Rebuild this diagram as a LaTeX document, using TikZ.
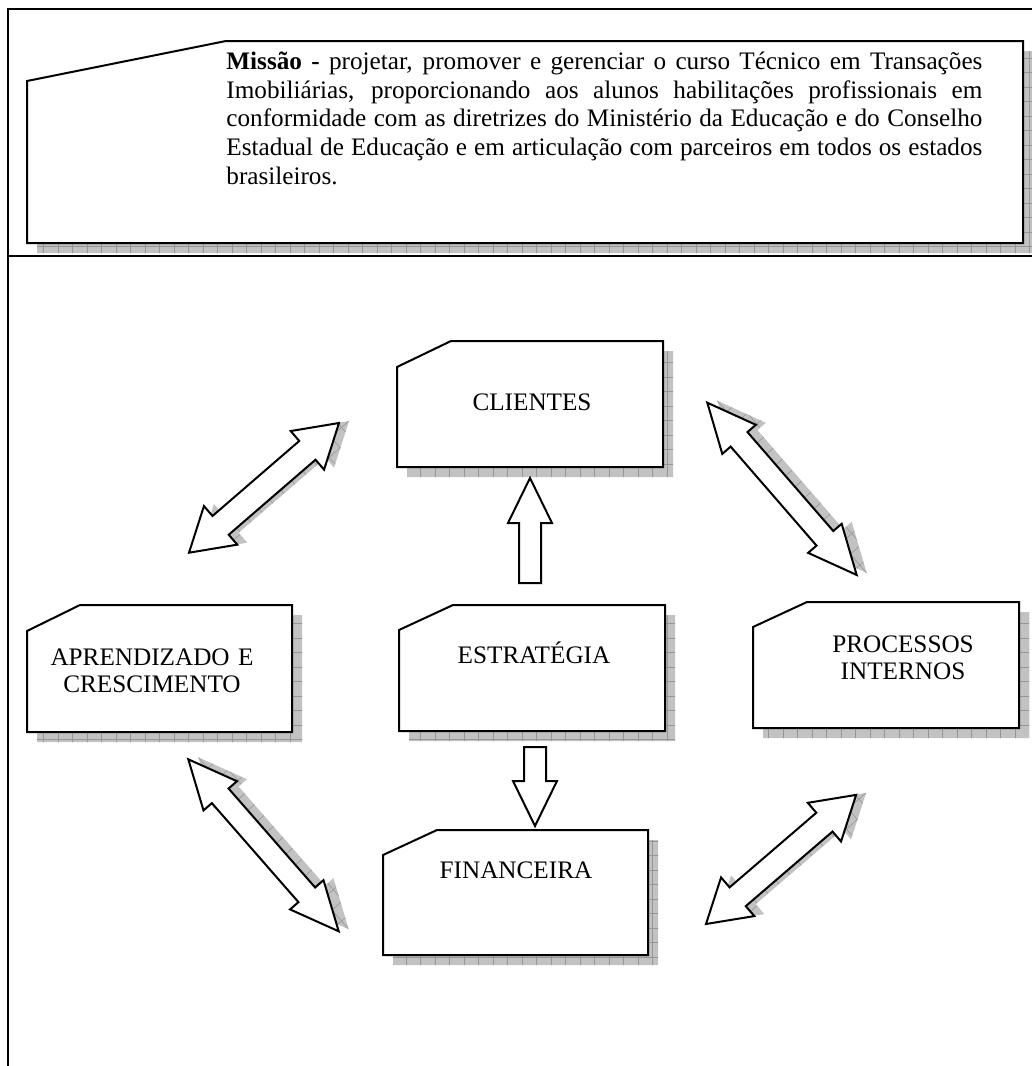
\documentclass[tikz,border=0pt]{standalone}
\usepackage{fontspec}
\setmainfont{Liberation Serif}
\usetikzlibrary{calc}

\definecolor{shadowfill}{RGB}{194,194,194}
\definecolor{shadowgrid}{RGB}{150,150,150}

\tikzset{
  outline/.style={draw=black, line width=1pt, line join=miter, fill=white},
  shade/.style={fill=shadowfill},
  gridline/.style={draw=shadowgrid, line width=0.3pt},
  rule/.style={draw=black, line width=1pt},
  boxlabel/.style={inner sep=0pt, anchor=base, align=center,
    font=\fontsize{12.6pt}{13.5pt}\selectfont},
}

% Panel with a cut upper-left corner: left, top, right, bottom, cut dx, cut dy
\newcommand\panelpath[6]{(#1,{#2+#6}) -- ({#1+#5},#2) -- (#3,#2) -- (#3,#4) -- (#1,#4) -- cycle}
\newcommand\panel[6]{%
  \begin{scope}
    \clip[shift={(10,10)}] \panelpath{#1}{#2}{#3}{#4}{#5}{#6};
    \fill[shade] (#1,#2) rectangle ({#3+12},{#4+12});
    \foreach \g in {0,14.5,...,1040} \draw[gridline] (\g,#2) -- (\g,{#4+12});
    \foreach \g in {0,14.5,...,1000} \draw[gridline] (#1,\g) -- ({#3+12},\g);
  \end{scope}
  \draw[outline] \panelpath{#1}{#2}{#3}{#4}{#5}{#6};}

% Double-headed block arrow along the local x axis: length, head length, head half width, shaft half width
\newcommand\dblarrowpath[4]{(0,0) -- (#2,#3) -- (#2,#4) -- ({#1-#2},#4) -- ({#1-#2},#3) -- (#1,0)
  -- ({#1-#2},{-#3}) -- ({#1-#2},{-#4}) -- (#2,{-#4}) -- (#2,{-#3}) -- cycle}
% start coordinate, angle, length, head length, head half width, shaft half width
\newcommand\blockarrow[6]{%
  \begin{scope}[shift={($(#1)+(10,-2)$)}, rotate=#2]
    \clip \dblarrowpath{#3}{#4}{#5}{#6};
    \fill[shade] (-5,-40) rectangle ({#3+5},40);
    \foreach \g in {0,14.5,...,240} \draw[gridline] (\g,-40) -- (\g,40);
    \foreach \g in {-43.5,-29,...,43.5} \draw[gridline] (-5,\g) -- ({#3+5},\g);
  \end{scope}
  \begin{scope}[shift={(#1)}, rotate=#2]
    \draw[outline] \dblarrowpath{#3}{#4}{#5}{#6};
  \end{scope}}

\begin{document}
\begin{tikzpicture}[x=0.5pt, y=-0.5pt]
  \useasboundingbox (0,0) rectangle (1032,1066);

  % table frame
  \coordinate (frameTL) at (8,9);
  \coordinate (frameTR) at (1032,9);
  \coordinate (frameBL) at (8,1066);
  \coordinate (sepL) at (8,256);
  \coordinate (sepR) at (1032,256);
  \draw[rule, line cap=rect] (frameTR) -- (frameTL) -- (frameBL);
  \draw[rule] (sepL) -- (sepR);

  % mission statement
  \panel{27}{41}{1023}{243}{199}{40}
  \node[anchor=north west, inner sep=0pt, text width=378pt, align=justify,
        font=\fontsize{12.6pt}{14.35pt}\selectfont] (missao) at (226,49)
    {\strut\tolerance=9999\hyphenpenalty=10000
     \textbf{Missão -} projetar, promover e gerenciar o curso Técnico em Transações\linebreak
     Imobiliárias, proporcionando aos alunos habilitações profissionais em\linebreak
     conformidade com as diretrizes do Ministério da Educação e do Conselho\linebreak
     Estadual de Educação e em articulação com parceiros em todos os estados\linebreak
     brasileiros.};

  % perspective panels
  \panel{397}{341}{663}{467}{54}{26}
  \node[boxlabel] (clientes) at (532,410) {CLIENTES};

  \panel{27}{605}{292}{732}{53}{26}
  \node[boxlabel, text width=140pt] (aprendizado) at (152,665) {APRENDIZADO E\\CRESCIMENTO};

  \panel{399}{605}{665}{731}{54}{25}
  \node[boxlabel] (estrategia) at (534,663) {ESTRATÉGIA};

  \panel{753}{602}{1019}{728}{54}{25}
  \node[boxlabel, text width=140pt] (processos) at (903,652) {PROCESSOS\\INTERNOS};

  \panel{383}{830}{648}{955}{54}{25}
  \node[boxlabel] (financeira) at (516,878) {FINANCEIRA};

  % strategy arrows
  \coordinate (upTip) at (530,478);
  \coordinate (downTip) at (535,826);
  \draw[outline] (upTip) -- ++(22,45) -- ++(-11,0) -- ++(0,60) -- ++(-22,0) -- ++(0,-60) -- ++(-11,0) -- cycle;
  \draw[outline] (downTip) -- ++(22,-45) -- ++(-11,0) -- ++(0,-34) -- ++(-22,0) -- ++(0,34) -- ++(-11,0) -- cycle;

  % links between perspectives
  \coordinate (arrA) at (189,552.7);
  \coordinate (arrB) at (707.3,402.7);
  \coordinate (arrC) at (188.3,759.3);
  \coordinate (arrD) at (706,924);
  \blockarrow{arrA}{40.85}{198.3}{41.8}{25.5}{12.4}
  \blockarrow{arrB}{-49.07}{228}{48.5}{22.2}{11.1}
  \blockarrow{arrC}{-48.83}{228.5}{48.5}{22.2}{11.1}
  \blockarrow{arrD}{40.7}{198}{41.8}{25.5}{12.4}
\end{tikzpicture}
\end{document}
